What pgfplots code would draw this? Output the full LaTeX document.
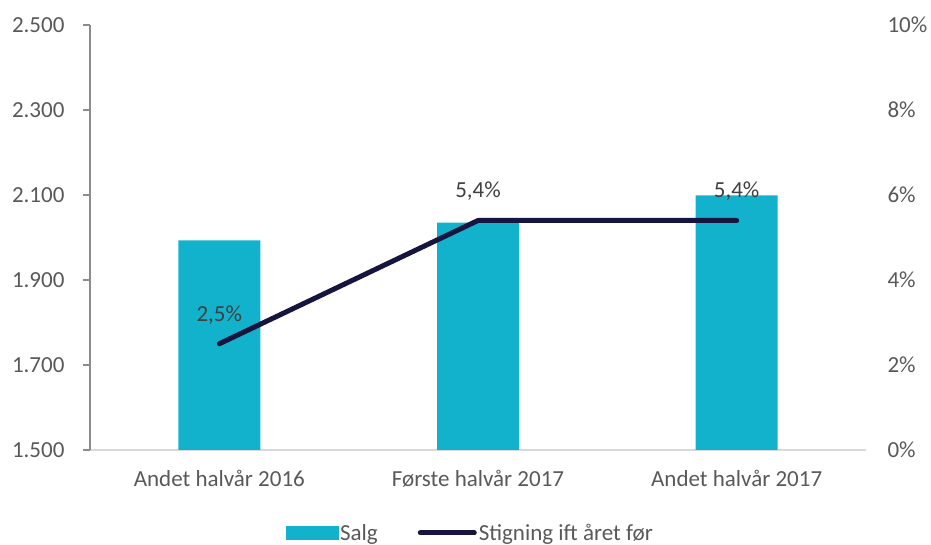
\documentclass[border=0pt]{standalone}
\usepackage{pgfplots}
\pgfplotsset{compat=1.18}
\usepackage{fontspec}
\setmainfont{Carlito}
\definecolor{barc}{HTML}{12B2CC}
\definecolor{linec}{HTML}{15153F}
\definecolor{txt}{HTML}{595959}
\definecolor{lbl}{HTML}{404040}
\definecolor{laxis}{HTML}{8C8C8C}
\definecolor{baxis}{HTML}{D9D9D9}
\begin{document}
\begin{tikzpicture}
\path[use as bounding box] (-90pt,-95pt) rectangle (841pt,450pt);
\begin{axis}[
  scale only axis, width=776pt, height=425pt,
  xmin=-0.5, xmax=2.5, ymin=1500, ymax=2500,
  axis x line*=bottom, axis y line*=left,
  x axis line style={draw=baxis, line width=1.2pt, -},
  y axis line style={draw=laxis, line width=1.2pt, -},
  xtick={0,1,2}, xticklabels={Andet halvår 2016, Første halvår 2017, Andet halvår 2017},
  major x tick style={draw=none},
  ytick={1500,1700,1900,2100,2300,2500},
  yticklabels={1.500,1.700,1.900,2.100,2.300,2.500},
  tick align=outside, major tick length=7pt,
  major y tick style={draw=laxis, line width=1.2pt},
  ticklabel style={font=\fontsize{23}{27}\selectfont, text=txt},
  yticklabel style={xshift=-15pt},
  xticklabel style={yshift=-10pt},
  /pgf/number format/assume math mode=true,
]
\addplot[ybar, bar width=82pt, fill=barc, draw=none] coordinates {(0,1993) (1,2035) (2,2099)};
\end{axis}
\begin{axis}[
  scale only axis, width=776pt, height=425pt,
  xmin=-0.5, xmax=2.5, ymin=0, ymax=10,
  axis x line=none, axis y line*=right,
  y axis line style={draw=none},
  ytick={0,2,4,6,8,10},
  yticklabels={0\%,2\%,4\%,6\%,8\%,10\%},
  major y tick style={draw=none},
  yticklabel style={font=\fontsize{23}{27}\selectfont, text=txt, anchor=west, xshift=18pt},
  legend columns=2,
  legend style={draw=none, fill=none, at={(0.49,-0.195)}, anchor=center,
    font=\fontsize{23}{27}\selectfont, text=txt,
    /tikz/every even column/.append style={column sep=38pt}},
]
\addlegendimage{legend image code/.code={\fill[barc] (0pt,-6.5pt) rectangle (52pt,6.5pt);}}
\addlegendentry{Salg}
\addplot[linec, line width=5pt, line cap=round, line join=round,
  legend image code/.code={\draw[linec, line width=5pt, line cap=round] (0pt,0pt) -- (54pt,0pt);},
  nodes near coords, point meta=explicit symbolic,
  every node near coord/.style={anchor=center, yshift=29pt, font=\fontsize{23}{27}\selectfont, text=lbl}]
  coordinates {(0,2.5) [2,5\%] (1,5.4) [5,4\%] (2,5.4) [5,4\%]};
\addlegendentry{Stigning ift året før}
\end{axis}
\end{tikzpicture}
\end{document}
